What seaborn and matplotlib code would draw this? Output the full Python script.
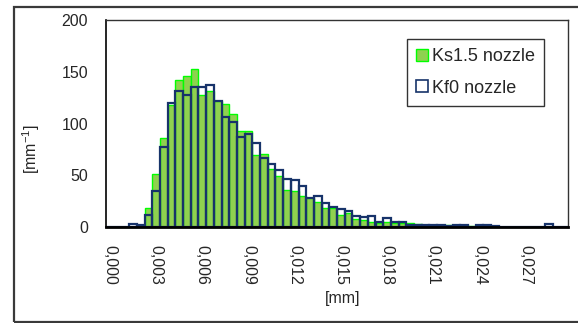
import matplotlib
matplotlib.use("Agg")
import matplotlib.pyplot as plt
import seaborn as sns
import pandas as pd
from matplotlib.patches import Patch, Rectangle

# ---- data (bin start, mm) ----
bins_mm = [0.0000, 0.0005, 0.0010, 0.0015, 0.0020, 0.0025, 0.0030, 0.0035, 0.0040, 0.0045,
           0.0050, 0.0055, 0.0060, 0.0065, 0.0070, 0.0075, 0.0080, 0.0085, 0.0090, 0.0095,
           0.0100, 0.0105, 0.0110, 0.0115, 0.0120, 0.0125, 0.0130, 0.0135, 0.0140, 0.0145,
           0.0150, 0.0155, 0.0160, 0.0165, 0.0170, 0.0175, 0.0180, 0.0185, 0.0190, 0.0195,
           0.0200, 0.0205, 0.0210, 0.0215, 0.0220, 0.0225, 0.0230, 0.0235, 0.0240, 0.0245,
           0.0250, 0.0255, 0.0260, 0.0265, 0.0270, 0.0275, 0.0280, 0.0285, 0.0290, 0.0295]

ks15 = [0, 0, 0, 0, 1, 18, 51, 86, 118, 142,
        146, 153, 128, 131, 122, 119, 109, 93, 93, 70,
        71, 56, 49, 36, 35, 30, 28, 24, 18, 18,
        12, 14, 8, 7, 5, 4, 5, 4, 4, 3.5,
        3, 2, 2, 2, 2, 2, 2, 1, 1.5, 1.5,
        0.5, 0.3, 0.3, 0.3, 0.3, 0.3, 0.3, 0, 0, 0]

kf0 = [0, 0, 0, 3, 1.5, 12, 35, 77, 120, 131,
       128, 135, 135, 137, 122, 106, 101, 87, 90, 81,
       67, 61, 55, 46, 45, 40, 28, 30, 23, 19,
       17, 15, 10.5, 10, 10.5, 4.5, 9, 5, 4.5, 2,
       2, 2, 1.5, 1.5, 0.5, 2, 2, 0, 2, 2,
       0.5, 0.3, 0.3, 0.3, 0.3, 0.3, 0.3, 2.5, 0, 0]

tick_labels = ["0,000", "0,003", "0,006", "0,009", "0,012", "0,015",
               "0,018", "0,021", "0,024", "0,027"]
y_ticks = [0, 50, 100, 150, 200]

series_names = ["Ks1.5 nozzle", "Kf0 nozzle"]

df = pd.DataFrame({"bin": bins_mm, "ks": ks15, "kf": kf0})

GREEN_FILL = "#8fd14f"
GREEN_EDGE = "#00ff00"
NAVY = "#17336a"

sns.set_style("white")
plt.rcParams["font.family"] = ["Liberation Sans", "DejaVu Sans"]
plt.rcParams["mathtext.fontset"] = "custom"
plt.rcParams["mathtext.rm"] = "Liberation Sans"
plt.rcParams["mathtext.it"] = "Liberation Sans"

fig = plt.figure(figsize=(5.78, 3.23), dpi=100)
ax = fig.add_axes([106/578, 1 - 227/323, 462/578, 207/323])

order = sorted(bins_mm)
sns.barplot(data=df, x="bin", y="ks", order=order, color=GREEN_FILL, saturation=1,
            width=1.0, edgecolor=GREEN_EDGE, linewidth=1.0, errorbar=None, ax=ax)
sns.barplot(data=df, x="bin", y="kf", order=order, color=NAVY, saturation=1,
            width=1.0, fill=False, linewidth=1.6, errorbar=None, ax=ax)

ax.set_xlim(-0.5, len(order) - 0.5)
ax.set_ylim(0, 200)
ax.set_yticks(y_ticks)
ax.set_yticklabels([str(v) for v in y_ticks], fontsize=11.5)

pos = [order.index(float(t.replace(",", "."))) for t in tick_labels]
ax.set_xticks(pos)
ax.set_xticklabels(tick_labels, rotation=-90, fontsize=11.5)
ax.set_xticks([i - 0.5 for i in range(len(order) + 1)], minor=True)
ax.tick_params(axis="x", which="major", length=0, pad=13)
ax.tick_params(axis="x", which="minor", length=4, width=1, direction="out", color="black")
ax.tick_params(axis="y", which="major", length=4, width=1, direction="out", color="black", pad=9)

for side in ["top", "right"]:
    ax.spines[side].set_color("#333333")
    ax.spines[side].set_linewidth(1.0)
ax.spines["left"].set_color("black")
ax.spines["left"].set_linewidth(1.2)
ax.spines["bottom"].set_color("black")
ax.spines["bottom"].set_linewidth(2.0)
ax.spines["bottom"].set_zorder(5)

ax.set_xlabel("[mm]", fontsize=11.5)
ax.xaxis.set_label_coords(0.513, -0.31)
ax.set_ylabel("[mm$^{-1}$]", fontsize=11.5)
ax.yaxis.set_label_coords(-0.138, 0.377)

handles = [Patch(facecolor=GREEN_FILL, edgecolor=GREEN_EDGE, linewidth=1.0),
           Patch(facecolor="white", edgecolor=NAVY, linewidth=1.2)]
leg = ax.legend(handles, series_names, loc="upper left", bbox_to_anchor=(0.652, 0.908),
                fontsize=13, frameon=True, fancybox=False, shadow=False,
                handlelength=0.65, handleheight=0.65, handletextpad=0.2,
                borderpad=0.5, labelspacing=0.8, borderaxespad=0)
leg.get_frame().set_edgecolor("black")
leg.get_frame().set_linewidth(1.0)

fig.add_artist(Rectangle((14/578, 1.5/323), 1.0, (321.5 - 7) / 323 - 0.0,
                         transform=fig.transFigure, fill=False,
                         edgecolor="#3a3a3a", linewidth=1.6))

fig.savefig("out.png", dpi=100)
